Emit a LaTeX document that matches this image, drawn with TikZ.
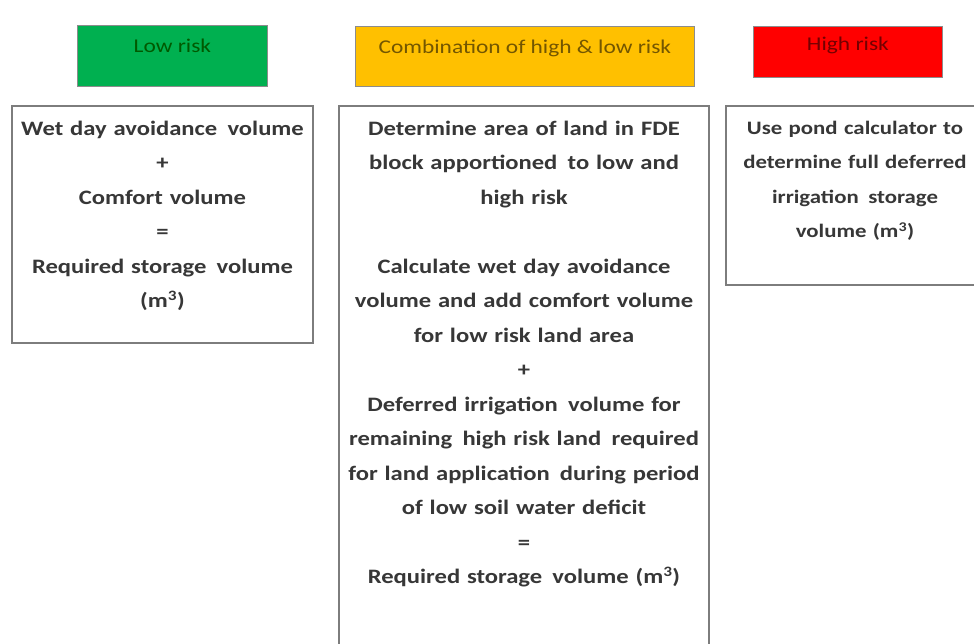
\documentclass[tikz,border=0pt]{standalone}
\usepackage{fontspec}
\setmainfont{Carlito}[FakeStretch=1.2]
\usetikzlibrary{positioning}
\definecolor{riskgreen}{RGB}{0,176,80}
\definecolor{riskamber}{RGB}{255,192,0}
\definecolor{riskred}{RGB}{255,0,0}
\definecolor{framegray}{RGB}{125,125,125}
\definecolor{textgray}{RGB}{55,55,55}

\begin{document}
\begin{tikzpicture}[
    x=1pt, y=-1pt,
    header/.style={rectangle, draw=black!45, line width=0.8pt, anchor=north west,
                   text height=15pt, text depth=21pt, font=\fontsize{19.5}{22}\selectfont},
    frame/.style={rectangle, draw=framegray, line width=1.2pt, anchor=north west,
                  inner sep=0pt, outer sep=0pt},
    bodytext/.style={align=center, inner sep=0pt, outer sep=0pt, text=textgray,
                     font=\fontsize{20.5}{34.5}\selectfont\bfseries}
]
    \useasboundingbox[fill=white] (0,0) rectangle (974,643);

    % Header row
    \node[header, fill=riskgreen, text=green!35!black, minimum width=190pt, minimum height=61pt] (lowhead) at (77,25) {Low risk};
    \node[header, fill=riskamber, text=riskamber!45!black, text depth=20pt, minimum width=339pt, minimum height=60pt] (mixhead) at (355,26) {Combination of high \& low risk};
    \node[header, fill=riskred, text=red!45!black, text depth=17pt, minimum width=189pt, minimum height=51pt] (highhead) at (753,26) {High risk};

    % Frames
    \node[frame, minimum width=301pt, minimum height=237pt] (lowbox) at (12,106) {};
    \node[frame, minimum width=370pt, minimum height=580pt] (mixbox) at (339,106) {};
    \node[frame, minimum width=270pt, minimum height=179pt] (highbox) at (726,106) {};

    % Texts
    \node[bodytext, text width=295pt, below=15pt of lowbox.north] (lowtxt)
        {Wet day avoidance\, volume\\+\\Comfort volume\\=\\Required storage\, volume\\(m\textsuperscript{3})};
    \node[bodytext, text width=365pt, below=15pt of mixbox.north] (mixtxt)
        {Determine area of land in FDE\\block apportioned\, to low and\\high risk\\[34.5pt]
         Calculate wet day avoidance\\volume and add comfort volume\\for low risk land area\\+\\
         Deferred irrigation\, volume for\\remaining\, high risk land\, required\\
         for land application\, during period\\of low soil water deficit\\=\\
         Required storage\, volume (m\textsuperscript{3})};
    \node[bodytext, text width=240pt, font=\fontsize{19}{34.5}\selectfont\bfseries,
          below=15pt of highbox.north, xshift=-6pt] (hightxt)
        {Use pond calculator to\\determine full deferred\\irrigation\, storage\\volume (m\textsuperscript{3})};
\end{tikzpicture}
\end{document}
